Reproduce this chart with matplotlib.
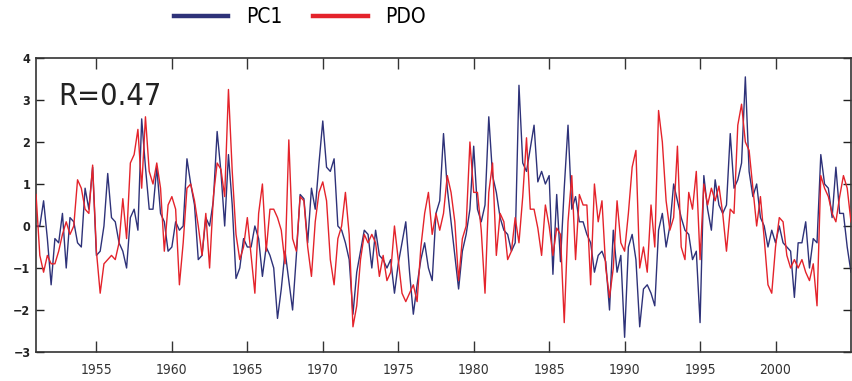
import numpy as np
import matplotlib.pyplot as plt

plt.rcParams['font.family'] = ['DejaVu Sans']
plt.rcParams['font.stretch'] = 'condensed'

# quarterly sample times, 1951.0 .. 2005.0
years = np.arange(1951.0, 2005.001, 0.25)

# PDO index (red), four values per year
pdo = [
    0.75, -0.7, -1.1, -0.7,     # 1951
    -0.9, -0.9, -0.6, -0.2,     # 1952
    0.1, -0.2, 0.0, 1.1,        # 1953
    0.9, 0.4, 0.3, 1.45,        # 1954
    -0.6, -1.6, -0.9, -0.8,     # 1955
    -0.7, -0.8, -0.4, 0.65,     # 1956
    -0.3, 1.5, 1.7, 2.3,        # 1957
    0.9, 2.6, 1.3, 1.0,         # 1958
    1.5, 0.9, -0.6, 0.5,        # 1959
    0.7, 0.4, -1.4, -0.4,       # 1960
    0.9, 1.0, 0.6, 0.0,         # 1961
    -0.7, 0.3, -1.0, 0.7,       # 1962
    1.5, 1.35, 0.7, 3.25,       # 1963
    1.3, -0.2, -0.8, -0.5,      # 1964
    0.2, -0.7, -1.6, 0.3,       # 1965
    1.0, -0.6, 0.4, 0.4,        # 1966
    0.2, -0.1, -0.9, 2.05,      # 1967
    -0.3, -0.6, 0.7, 0.6,       # 1968
    -0.5, -1.2, 0.1, 0.8,       # 1969
    1.05, 0.6, -0.8, -1.4,      # 1970
    -0.3, 0.0, 0.8, -0.2,       # 1971
    -2.4, -1.9, -0.8, -0.2,     # 1972
    -0.4, -0.2, -0.4, -1.2,     # 1973
    -0.7, -1.3, -1.1, 0.0,      # 1974
    -0.8, -1.6, -1.8, -1.6,     # 1975
    -1.4, -1.8, -0.5, 0.3,      # 1976
    0.8, -0.2, 0.3, -0.1,       # 1977
    0.3, 1.2, 0.8, 0.1,         # 1978
    -1.3, -0.3, 0.0, 2.0,       # 1979
    0.8, 0.8, -0.1, -1.6,       # 1980
    0.8, 1.5, -0.7, 0.3,        # 1981
    0.1, -0.8, -0.6, 0.2,       # 1982
    -0.4, 0.7, 2.1, 0.4,        # 1983
    0.4, -0.05, -0.7, 0.5,      # 1984
    0.0, -0.7, -0.05, -0.2,     # 1985
    -2.3, 0.1, 1.2, -0.8,       # 1986
    0.75, 0.5, 0.5, -1.4,       # 1987
    1.0, 0.1, 0.6, -1.0,        # 1988
    -1.7, -1.0, 0.6, -0.4,      # 1989
    -0.6, 0.3, 1.4, 1.8,        # 1990
    -1.0, -0.5, -1.1, 0.5,      # 1991
    -0.5, 2.75, 2.0, 0.6,       # 1992
    -0.1, 0.2, 1.9, -0.5,       # 1993
    -0.8, 0.8, 0.4, 1.3,        # 1994
    -0.8, 1.0, 0.5, 0.9,        # 1995
    0.6, 0.95, 0.3, -0.6,       # 1996
    0.4, 0.3, 2.4, 2.9,         # 1997
    2.0, 1.8, 0.9, 0.0,         # 1998
    0.7, -0.3, -1.4, -1.6,      # 1999
    -0.5, 0.2, 0.1, -0.7,       # 2000
    -1.0, -0.8, -1.0, -0.8,     # 2001
    -1.1, -1.3, -0.9, -1.9,     # 2002
    1.2, 0.9, 0.7, 0.3,         # 2003
    0.1, 0.7, 1.2, 0.9,         # 2004
    0.1,                        # 2005
]

# first principal component (blue)
pc1 = [
    0.0, 0.0, 0.6, -0.3,        # 1951
    -1.4, -0.3, -0.4, 0.3,      # 1952
    -1.0, 0.2, 0.1, -0.4,       # 1953
    -0.5, 0.9, 0.4, 1.4,        # 1954
    -0.7, -0.6, 0.0, 1.25,      # 1955
    0.2, 0.1, -0.4, -0.6,       # 1956
    -1.0, 0.2, 0.4, -0.1,       # 1957
    2.55, 1.4, 0.4, 0.4,        # 1958
    1.4, 0.3, 0.1, -0.6,        # 1959
    -0.5, 0.1, -0.1, 0.0,       # 1960
    1.6, 1.0, 0.5, -0.8,        # 1961
    -0.7, 0.2, 0.0, 0.6,        # 1962
    2.25, 1.3, 0.0, 1.7,        # 1963
    0.5, -1.25, -1.0, -0.3,     # 1964
    -0.5, -0.5, 0.0, -0.3,      # 1965
    -1.2, -0.5, -0.7, -1.0,     # 1966
    -2.2, -1.5, -0.6, -1.3,     # 1967
    -2.0, -0.7, 0.75, 0.65,     # 1968
    -0.4, 0.9, 0.4, 1.5,        # 1969
    2.5, 1.4, 1.3, 1.6,         # 1970
    0.0, -0.1, -0.4, -0.8,      # 1971
    -2.1, -1.1, -0.6, -0.1,     # 1972
    -0.2, -1.0, -0.1, -0.7,     # 1973
    -0.8, -1.0, -0.8, -1.6,     # 1974
    -0.9, -0.4, 0.1, -1.1,      # 1975
    -2.1, -1.4, -0.8, -0.4,     # 1976
    -1.0, -1.3, 0.3, 0.6,       # 1977
    2.2, 0.9, 0.1, -0.7,        # 1978
    -1.5, -0.6, -0.2, 0.4,      # 1979
    1.9, 0.4, 0.1, 0.5,         # 1980
    2.6, 1.2, 0.8, 0.2,         # 1981
    -0.1, -0.2, -0.6, -0.4,     # 1982
    3.35, 1.5, 1.3, 1.85,       # 1983
    2.4, 1.05, 1.3, 1.0,        # 1984
    1.2, -1.15, 0.75, -0.85,    # 1985
    0.9, 2.4, 0.4, 0.7,         # 1986
    0.1, 0.1, -0.2, -0.4,       # 1987
    -1.1, -0.7, -0.6, -0.85,    # 1988
    -2.0, -0.1, -1.1, -0.7,     # 1989
    -2.65, -0.5, -0.2, -0.8,    # 1990
    -2.4, -1.5, -1.4, -1.6,     # 1991
    -1.9, -0.1, 0.3, -0.5,      # 1992
    0.0, 1.0, 0.6, 0.2,         # 1993
    -0.1, -0.2, -0.8, -0.6,     # 1994
    -2.3, 1.2, 0.4, -0.1,       # 1995
    1.1, 0.5, 0.3, 0.5,         # 1996
    2.2, 0.9, 1.1, 1.5,         # 1997
    3.55, 1.3, 0.7, 1.0,        # 1998
    0.2, 0.0, -0.5, -0.1,       # 1999
    -0.4, 0.0, -0.4, -0.5,      # 2000
    -0.6, -1.7, -0.4, -0.4,     # 2001
    0.1, -1.0, -0.3, -0.4,      # 2002
    1.7, 1.0, 0.9, 0.2,         # 2003
    1.4, 0.3, 0.3, -0.5,        # 2004
    -1.1,                       # 2005
]

xticks = [1955, 1960, 1965, 1970, 1975, 1980, 1985, 1990, 1995, 2000]
yticks = [-3, -2, -1, 0, 1, 2, 3, 4]

BLUE = '#2e3279'
RED = '#e4232b'

fig = plt.figure(figsize=(8.52, 3.81), dpi=100)
ax = fig.add_axes([0.0423, 0.0761, 0.9565, 0.7717])

ax.plot(years, pc1, color=BLUE, lw=1.0, label='PC1', zorder=2)
ax.plot(years, pdo, color=RED, lw=1.0, label='PDO', zorder=3)

ax.set_xlim(1951.0, 2005.0)
ax.set_ylim(-3, 4)
ax.set_xticks(xticks)
ax.set_yticks(yticks)
ax.tick_params(axis='x', direction='in', length=8, width=1, top=True,
               labelsize=10, pad=8, colors='#333333')
ax.tick_params(axis='y', direction='in', length=6, width=1, right=True,
               labelsize=9, pad=4, colors='#222222')
for lab in ax.get_yticklabels():
    lab.set_fontweight('bold')
for sp in ax.spines.values():
    sp.set_color('#333333')
    sp.set_linewidth(1.2)

ax.text(0.027, 0.84, 'R=0.47', transform=ax.transAxes, fontsize=22,
        color='#222222', va='baseline', ha='left')

leg = fig.legend(loc='center', bbox_to_anchor=(0.352, 0.955), ncol=2,
                 frameon=False, fontsize=15, handlelength=2.6,
                 handletextpad=0.85, columnspacing=1.5)
for h in leg.legend_handles:
    h.set_linewidth(3.2)

fig.savefig('out.png', dpi=100)
